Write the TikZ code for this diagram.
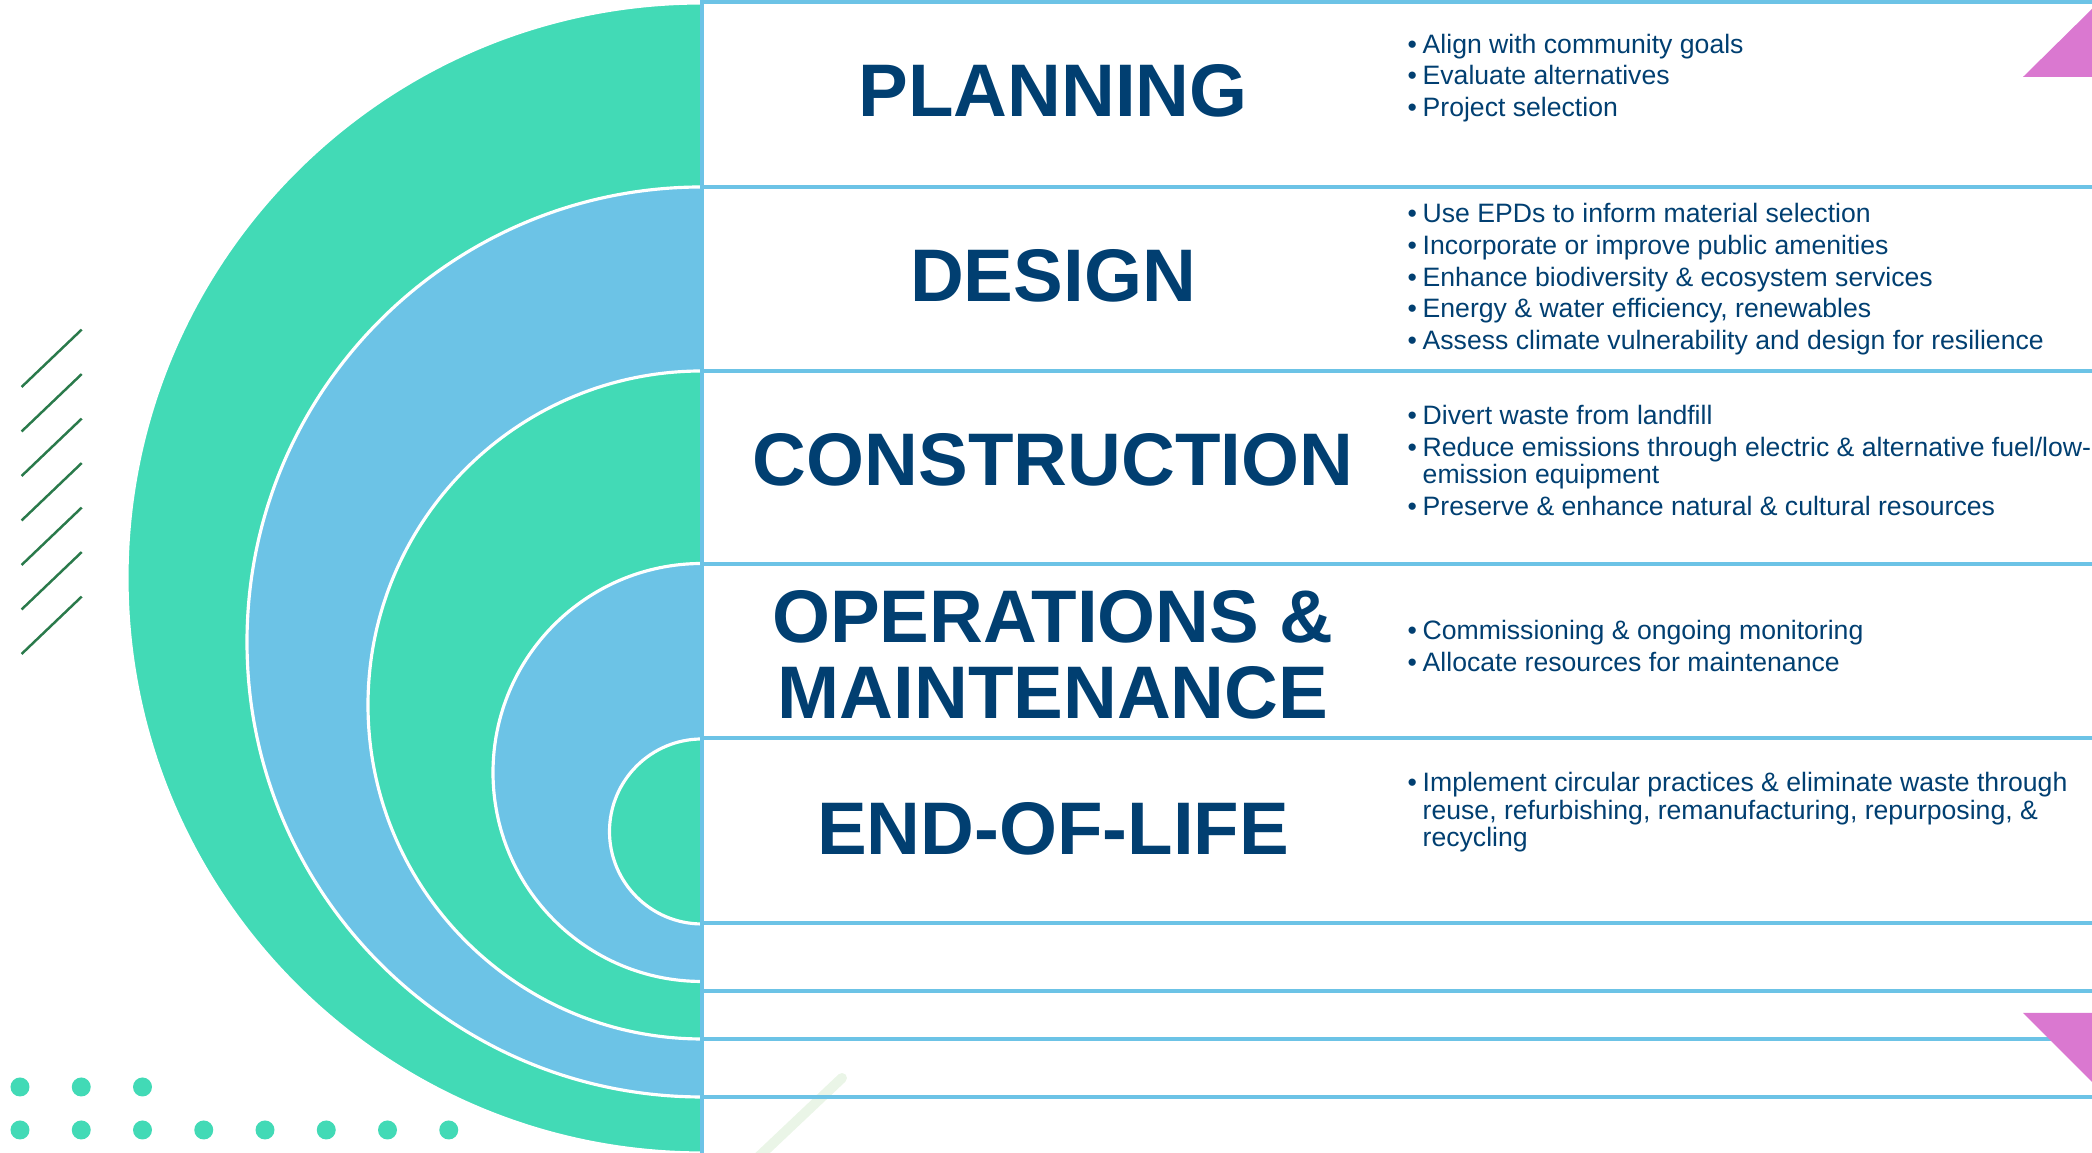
\documentclass[tikz,border=0pt]{standalone}
\usepackage{fontspec}
\setmainfont{Liberation Sans}[Ligatures=NoCommon]
\usepackage{tikz}
\usetikzlibrary{positioning}

\definecolor{mint}{HTML}{42DAB6}
\definecolor{sky}{HTML}{6CC3E6}
\definecolor{navy}{HTML}{013F71}
\definecolor{orchid}{HTML}{DA78D0}
\definecolor{pine}{HTML}{2A7A4B}
\definecolor{haze}{HTML}{EAF5E7}

\newlength{\bulw}
\setlength{\bulw}{0.15cm}
\newcommand{\bul}{\makebox[\bulw][l]{\textbullet}}
\newcommand{\contd}{\hspace*{\bulw}}

\tikzset{
	stage/.style={font=\fontsize{21.2}{21.9}\selectfont\bfseries, text=navy, inner sep=0pt, anchor=base, align=center},
	bullets/.style={font=\fontsize{7.57}{7.82}\selectfont, text=navy, inner sep=0pt, anchor=base west, align=left},
	divider/.style={draw=sky, line width=1.1pt},
	ring/.style={draw=white, line width=0.9pt},
	hatch/.style={draw=pine, line width=0.7pt},
}

\begin{document}
\begin{tikzpicture}
	\useasboundingbox (0,0) rectangle (20.92,11.53);
	
	% nested half discs
	\foreach \cy/\r/\c in {5.75/5.75/mint, 5.11/4.55/sky, 4.48/3.34/mint, 3.805/2.09/sky, 3.215/0.925/mint}{
		\fill[\c] (7.02,\cy+\r) arc[start angle=90, end angle=270, radius=\r] -- cycle;
		\draw[ring] (7.02,\cy+\r) arc[start angle=90, end angle=270, radius=\r];
	}
	
	\draw[haze, line width=0.1cm, line cap=round] (8.42,0.75) -- (7.5,-0.12);
	
	% table rules
	\foreach \y in {11.51, 9.66, 7.82, 5.89, 4.15, 2.30, 1.62, 1.14, 0.56}
		\draw[divider] (7.02,\y) -- (20.92,\y);
	\draw[divider] (7.02,11.53) -- (7.02,0);
	
	\fill[orchid] (20.23,10.76) -- (20.92,10.76) -- (20.92,11.44) -- cycle;
	\fill[orchid] (20.23,1.40) -- (20.92,1.40) -- (20.92,0.71) -- cycle;
	
	% stages (base = last line)
	\node[stage] (plan) at (10.53,10.36) {PLANNING};
	\node[stage] (design) at (10.53,8.51) {DESIGN};
	\node[stage] (build) at (10.53,6.67) {CONSTRUCTION};
	\node[stage] (ops) at (10.53,4.34) {OPERATIONS \&\\MAINTENANCE};
	\node[stage] (eol) at (10.53,2.98) {END-OF-LIFE};
	
	\node[bullets] (plan-txt) at (14.07,10.36) {\bul Align with community goals\\[0.045cm]
		\bul Evaluate alternatives\\[0.045cm]
		\bul Project selection};
	\node[bullets] (design-txt) at (14.07,8.03) {\bul Use EPDs to inform material selection\\[0.045cm]
		\bul Incorporate or improve public amenities\\[0.045cm]
		\bul Enhance biodiversity \& ecosystem services\\[0.045cm]
		\bul Energy \& water efficiency, renewables\\[0.045cm]
		\bul Assess climate vulnerability and design for resilience};
	\node[bullets] (build-txt) at (14.07,6.37) {\bul Divert waste from landfill\\[0.045cm]
		\bul Reduce emissions through electric \& alternative fuel/low-\\
		\contd emission equipment\\[0.045cm]
		\bul Preserve \& enhance natural \& cultural resources};
	\node[bullets] (ops-txt) at (14.07,4.813) {\bul Commissioning \& ongoing monitoring\\[0.045cm]
		\bul Allocate resources for maintenance};
	\node[bullets] (eol-txt) at (14.07,3.063) {\bul Implement circular practices \& eliminate waste through\\
		\contd reuse, refurbishing, remanufacturing, repurposing, \&\\
		\contd recycling};
	
	% side decoration
	\foreach \k in {0,...,6}
		\draw[hatch] (0.216,7.66-0.445*\k) -- ++(0.601,0.574);
	\foreach \i in {0,1,2}
		\fill[mint] (0.20+0.6125*\i,0.66) circle (0.095);
	\foreach \i in {0,...,7}
		\fill[mint] (0.20+0.6125*\i,0.23) circle (0.095);
\end{tikzpicture}
\end{document}
